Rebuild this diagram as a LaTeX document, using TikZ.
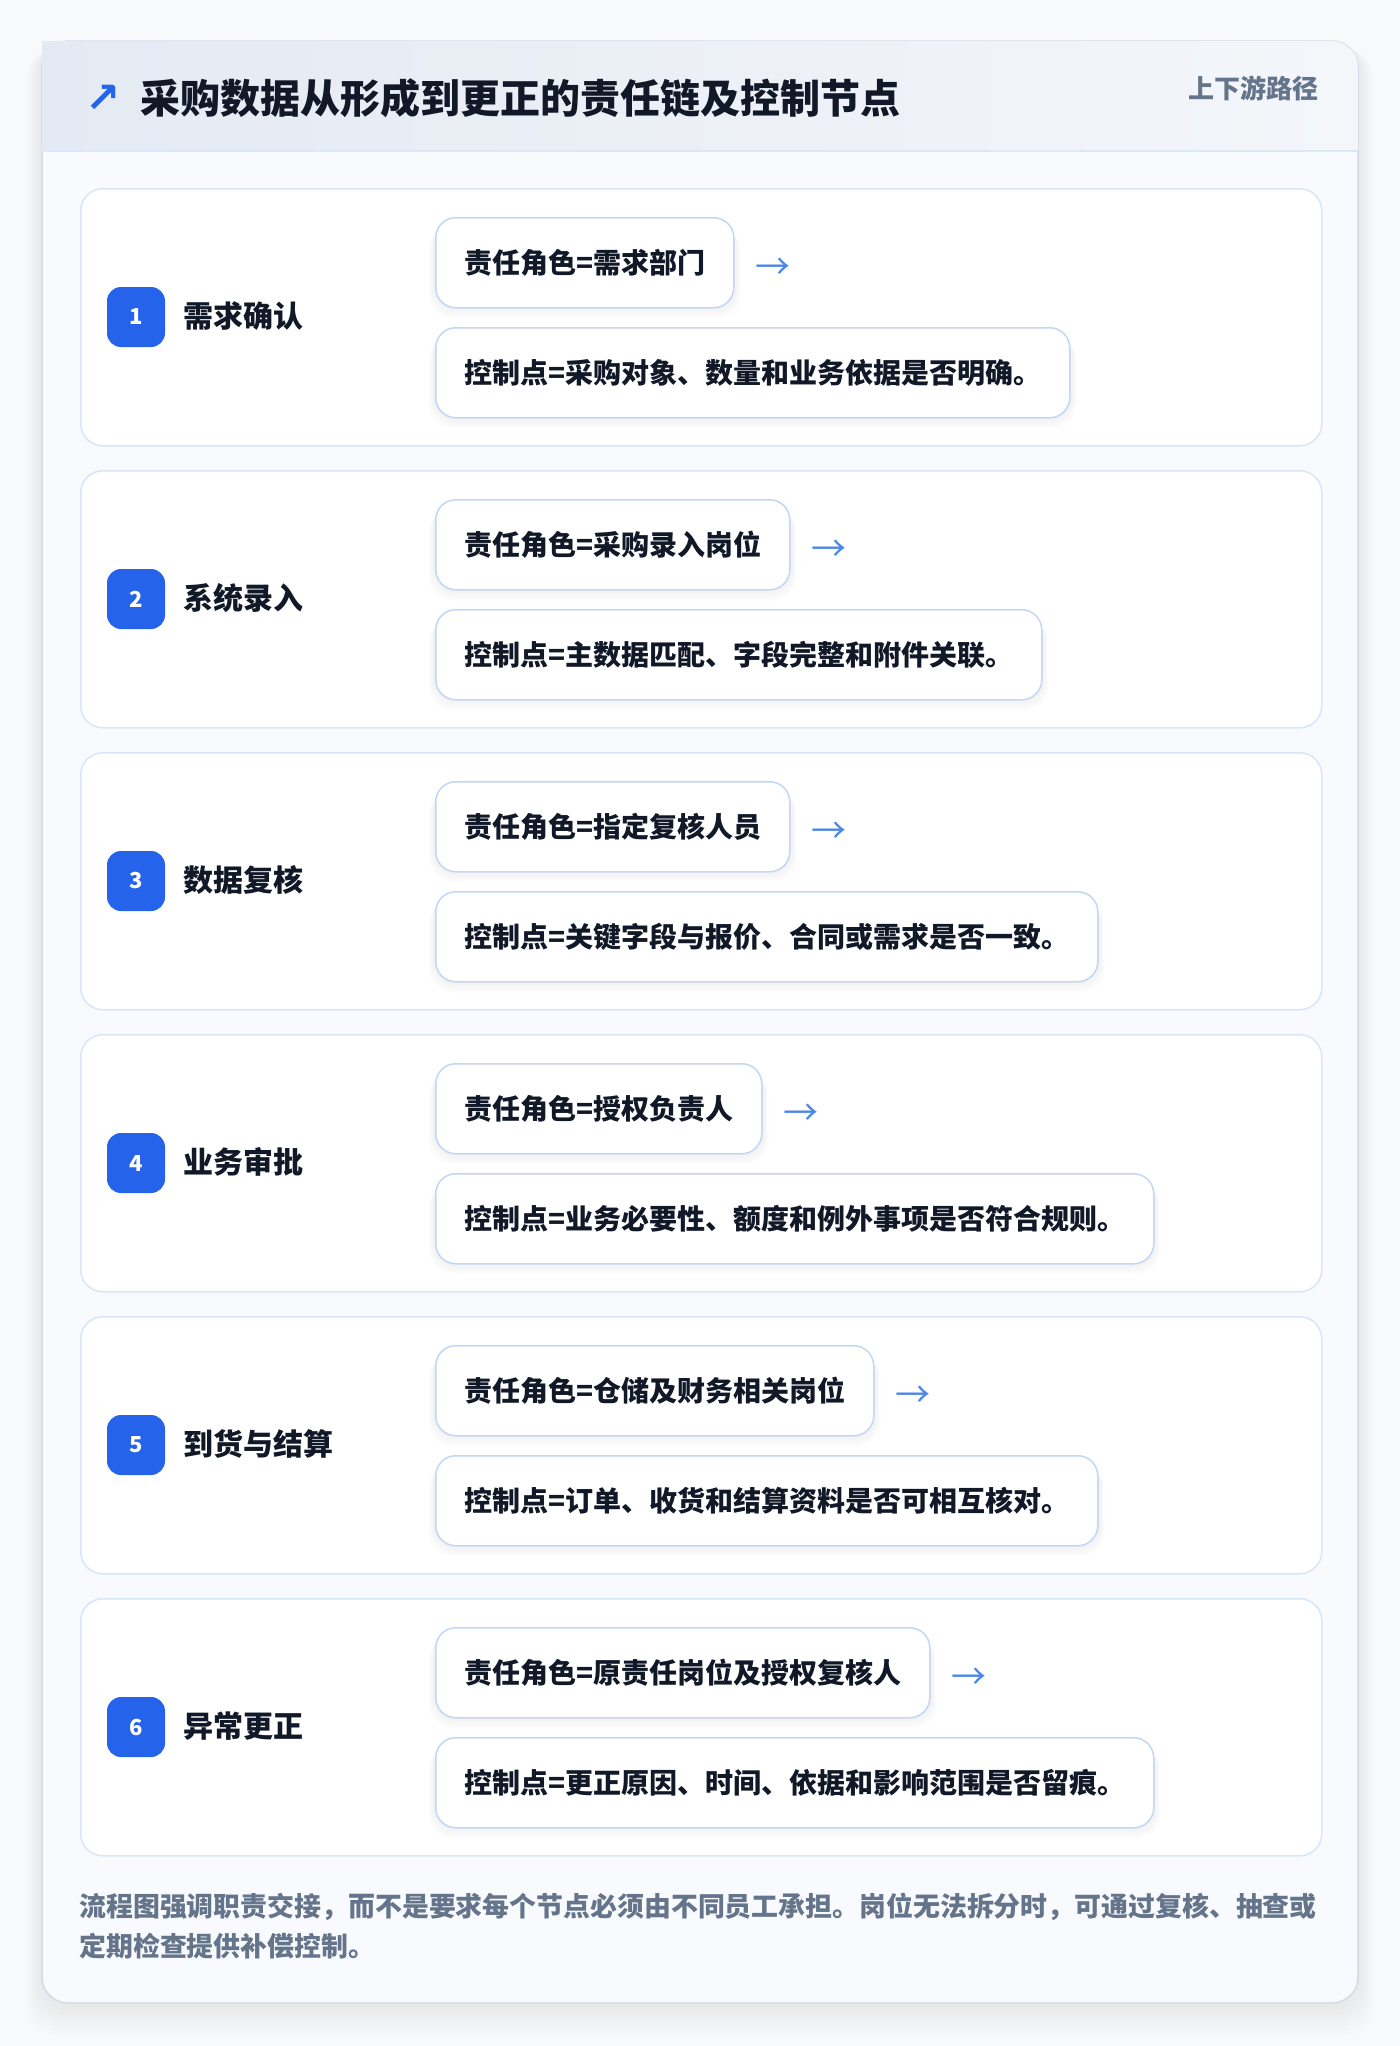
\documentclass[tikz,border=0pt]{standalone}
\usepackage{fontspec}
\setmainfont{Noto Sans CJK SC}
\newfontfamily\djv{DejaVu Sans}
\usetikzlibrary{calc}
\pgfdeclarelayer{back}
\pgfdeclarelayer{shadow}
\pgfsetlayers{back,shadow,main}
\definecolor{pagebg}{HTML}{F8F9FB}
\definecolor{cardbg}{HTML}{F8FAFD}
\definecolor{cardline}{HTML}{D3DBE7}
\definecolor{hdrL}{HTML}{E4EAF3}
\definecolor{hdrR}{HTML}{F4F6FA}
\definecolor{hdrline}{HTML}{DCE7F7}
\definecolor{rowline}{HTML}{D8E6F8}
\definecolor{boxline}{HTML}{C2D7F4}
\definecolor{badgeblue}{HTML}{2563EB}
\definecolor{ink}{HTML}{111827}
\definecolor{arrowblue}{HTML}{4A86E8}
\definecolor{muted}{HTML}{64748B}
\tikzset{
  rowbox/.style={draw=rowline, fill=white, rounded corners=11pt, line width=0.75pt,
    minimum width=620.5pt, minimum height=128.5pt, anchor=north west, inner sep=0pt},
  badge/.style={fill=badgeblue, rounded corners=7pt, minimum width=29pt, minimum height=30pt,
    text=white, font=\bfseries\fontsize{11pt}{11pt}\selectfont, inner sep=0pt},
  steplabel/.style={anchor=west, font=\bfseries\fontsize{15pt}{15pt}\selectfont, text=ink, inner sep=0pt},
  infobox/.style={draw=boxline, fill=white, rounded corners=10pt, line width=0.75pt,
    minimum height=45pt, inner xsep=13.5pt, inner ysep=0pt, anchor=north west,
    font=\bfseries\fontsize{14pt}{14pt}\selectfont, text=ink},
  flowarrow/.style={anchor=west, text=arrowblue, font=\fontsize{17.5pt}{17.5pt}\selectfont, inner sep=0pt},
  softshadow/.style={fill=black, opacity=0.012, rounded corners=12pt}
}
\begin{document}
\begin{tikzpicture}[x=0.5pt,y=-0.5pt]
\useasboundingbox (0,0) rectangle (1400,2046);
\begin{pgfonlayer}{back}
\fill[pagebg] (0,0) rectangle (1400,2046);
\foreach \i in {1,...,8}{
  \fill[black, opacity=0.008, rounded corners=15pt] (42-2*\i,41+\i) rectangle (1358+2*\i,2003+4*\i);
}
\draw[cardline, fill=cardbg, rounded corners=13pt, line width=0.75pt] (42,41) rectangle (1358,2003);
\shade[left color=hdrL, right color=hdrR] (42,151) -- (42,41) -- (1332,41)
  arc[start angle=270, end angle=360, radius=26] -- (1358,151) -- cycle;
\draw[hdrline, line width=1pt] (42,151) -- (1358,151);
\end{pgfonlayer}

\node[anchor=center, text=badgeblue, inner sep=0pt, font=\djv\bfseries\fontsize{21pt}{21pt}\selectfont] (icon) at (103,99) {↗};
\node[anchor=west, inner sep=0pt, text=ink, font=\bfseries\fontsize{20pt}{20pt}\selectfont] (title) at (140,98) {采购数据从形成到更正的责任链及控制节点};
\node[anchor=east, inner sep=0pt, text=muted, font=\bfseries\fontsize{13pt}{13pt}\selectfont] (tag) at (1319,88) {上下游路径};

\foreach \k/\lab/\role/\ctrl/\rw/\cw in {
  1/需求确认/需求部门/采购对象、数量和业务依据是否明确。/298/634,
  2/系统录入/采购录入岗位/主数据匹配、字段完整和附件关联。/354/606,
  3/数据复核/指定复核人员/关键字段与报价、合同或需求是否一致。/354/662,
  4/业务审批/授权负责人/业务必要性、额度和例外事项是否符合规则。/326/718,
  5/到货与结算/仓储及财务相关岗位/订单、收货和结算资料是否可相互核对。/438/662,
  6/异常更正/原责任岗位及授权复核人/更正原因、时间、依据和影响范围是否留痕。/494/718}{
  \pgfmathtruncatemacro{\T}{188+282*(\k-1)}
  \begin{pgfonlayer}{back}
    \node[rowbox] (row\k) at (80,\T) {};
  \end{pgfonlayer}
  \node[badge] (badge\k) at (136,\T+129) {\k};
  \node[steplabel] (label\k) at (183,\T+128) {\lab};
  \node[infobox, minimum width={\rw*0.5pt}] (role\k) at (435,\T+29) {责任角色=\role};
  \node[infobox, minimum width={\cw*0.5pt}] (ctrl\k) at (435,\T+139) {控制点=\ctrl};
  \node[flowarrow] (arr\k) at ([xshift=10.5pt,yshift=-3pt]role\k.east) {→};
  \begin{pgfonlayer}{shadow}
    \foreach \j in {1,...,5}{
      \fill[softshadow] ($(role\k.south west)+(-1.2*\j,-3+2.6*\j)$) rectangle ($(role\k.north east)+(1.2*\j,6+0.5*\j)$);
      \fill[softshadow] ($(ctrl\k.south west)+(-1.2*\j,-3+2.6*\j)$) rectangle ($(ctrl\k.north east)+(1.2*\j,6+0.5*\j)$);
    }
  \end{pgfonlayer}
}

\node[anchor=north west, align=left, inner sep=0pt, text=muted,
  font=\bfseries\fontsize{13.45pt}{20pt}\selectfont] (note) at (79,1893)
  {流程图强调职责交接，而不是要求每个节点必须由不同员工承担。岗位无法拆分时，可通过复核、抽查或\\定期检查提供补偿控制。};
\end{tikzpicture}
\end{document}
